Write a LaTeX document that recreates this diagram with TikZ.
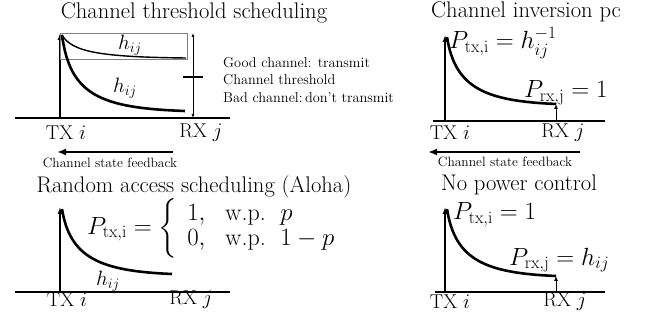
\documentclass[tikz,border=0pt]{standalone}
\usepackage{amsmath}
\usetikzlibrary{arrows.meta}
\begin{document}
\begin{tikzpicture}[x=1pt,y=-1pt,
  title/.style={font=\fontsize{22.6}{27}\selectfont, inner sep=0pt},
  big/.style={font=\fontsize{20}{24}\selectfont, inner sep=0pt},
  mathlbl/.style={font=\fontsize{24}{25}\selectfont, inner sep=0pt},
  hlbl/.style={font=\fontsize{21.5}{25}\selectfont, inner sep=0pt},
  small/.style={font=\fontsize{14.3}{17}\selectfont, inner sep=0pt},
  fbtext/.style={font=\fontsize{13.5}{16}\selectfont, inner sep=0pt},
  axisline/.style={line width=1.3pt},
  yaxis/.style={line width=1.3pt,-{Latex[length=7pt,width=5pt]}},
  chan/.style={line width=2.6pt},
  thinchan/.style={line width=1.4pt},
  rxarrow/.style={line width=1pt,-{Latex[length=5pt,width=4pt]}},
  fb/.style={line width=2.4pt,-{Latex[length=9pt,width=7pt]}},
]
\useasboundingbox (0,0) rectangle (646,320);

% ---------- Panel 1: Channel threshold scheduling
\node[title] (t1) at (194,13) {Channel threshold scheduling};
\coordinate (a1l) at (15,118); \coordinate (a1r) at (230,118);
\draw[axisline] (a1l) -- (a1r);
\coordinate (o1) at (60,118); \coordinate (y1) at (60,33);
\draw[yaxis] (o1) -- (y1);
\draw[gray, line width=0.8pt] (60,33) rectangle (187,59);
\coordinate (c1s) at (62,35);
\coordinate (c1g) at (186,58);
\coordinate (c1b) at (185,111);
\draw[thinchan] (c1s) .. controls (72,52) and (100,57) .. (c1g);
\draw[chan] (c1s) .. controls (70,95) and (100,108) .. (c1b);
\node[hlbl] (h1a) at (130,45) {$h_{ij}$};
\node[hlbl] (h1b) at (125,88) {$h_{ij}$};
\coordinate (d1t) at (193,33); \coordinate (d1b) at (193,118);
\draw[line width=0.8pt,{Latex[length=4pt,width=3pt]}-{Latex[length=4pt,width=3pt]}] (d1t) -- (d1b);
\coordinate (k1l) at (183,77); \coordinate (k1r) at (203,77);
\draw[line width=2pt] (k1l) -- (k1r);
\node[small, anchor=west] (good) at (223,63) {Good channel: transmit};
\node[small, anchor=west] (thr) at (223,80) {Channel threshold};
\node[small, anchor=west] (bad) at (223,98) {Bad channel:\,don't transmit};
\node[big] (tx1) at (66,133) {TX $i$};
\node[big] (rx1) at (201,133) {RX $j$};
\coordinate (f1s) at (173,152); \coordinate (f1e) at (57,152);
\draw[fb] (f1s) -- (f1e);
\node[fbtext] (fbt1) at (110,163) {Channel state feedback};

% ---------- Panel 2: Channel inversion pc
\node[title] (t2) at (526,12) {Channel inversion pc};
\coordinate (a2l) at (433,121); \coordinate (a2r) at (605,121);
\draw[axisline] (a2l) -- (a2r);
\coordinate (o2) at (445,121); \coordinate (y2) at (445,35);
\draw[yaxis] (o2) -- (y2);
\coordinate (c2s) at (447,37); \coordinate (c2e) at (556,104);
\draw[chan] (c2s) .. controls (455,88) and (485,101) .. (c2e);
\coordinate (r2b) at (556,121);
\draw[rxarrow] (r2b) -- (c2e);
\node[mathlbl, anchor=west] (ptx2) at (449,43) {$P_{\mathrm{tx,i}} = h_{ij}^{-1}$};
\node[mathlbl, anchor=west] (prx2) at (524,93) {$P_{\mathrm{rx,j}} = 1$};
\node[big] (tx2) at (450,133) {TX $i$};
\node[big] (rx2) at (563,133) {RX $j$};
\coordinate (f2s) at (580,152); \coordinate (f2e) at (428,152);
\draw[fb] (f2s) -- (f2e);
\node[fbtext] (fbt2) at (505,162) {Channel state feedback};

% ---------- Panel 3: Random access scheduling (Aloha)
\node[title] (t3) at (194,187) {Random access scheduling (Aloha)};
\coordinate (a3l) at (15,292); \coordinate (a3r) at (230,292);
\draw[axisline] (a3l) -- (a3r);
\coordinate (o3) at (60,292); \coordinate (y3) at (60,207);
\draw[yaxis] (o3) -- (y3);
\coordinate (c3s) at (62,209); \coordinate (c3e) at (172,274);
\draw[chan] (c3s) .. controls (70,258) and (100,271) .. (c3e);
\node[hlbl] (h3) at (108,281) {$h_{ij}$};
\node[mathlbl, anchor=west] (ptx3) at (87,228) {\setlength{\arraycolsep}{10pt}$P_{\mathrm{tx,i}} = \left\{\begin{array}{ll} 1, & \text{w.p.}\ \ p\\ 0, & \text{w.p.}\ \ 1-p\end{array}\right.$};
\node[big] (tx3) at (67,300) {TX $i$};
\node[big] (rx3) at (191,300) {RX $j$};

% ---------- Panel 4: No power control
\node[title] (t4) at (519,185) {No power control};
\coordinate (a4l) at (435,292); \coordinate (a4r) at (605,292);
\draw[axisline] (a4l) -- (a4r);
\coordinate (o4) at (445,292); \coordinate (y4) at (445,207);
\draw[yaxis] (o4) -- (y4);
\coordinate (c4s) at (447,209); \coordinate (c4e) at (556,276);
\draw[chan] (c4s) .. controls (455,260) and (485,273) .. (c4e);
\coordinate (r4b) at (556,292);
\draw[rxarrow] (r4b) -- (c4e);
\node[mathlbl, anchor=west] (ptx4) at (453,215) {$P_{\mathrm{tx,i}} = 1$};
\node[mathlbl, anchor=west] (prx4) at (509,260) {$P_{\mathrm{rx,j}} = h_{ij}$};
\node[big] (tx4) at (450,302) {TX $i$};
\node[big] (rx4) at (565,302) {RX $j$};
\end{tikzpicture}
\end{document}
